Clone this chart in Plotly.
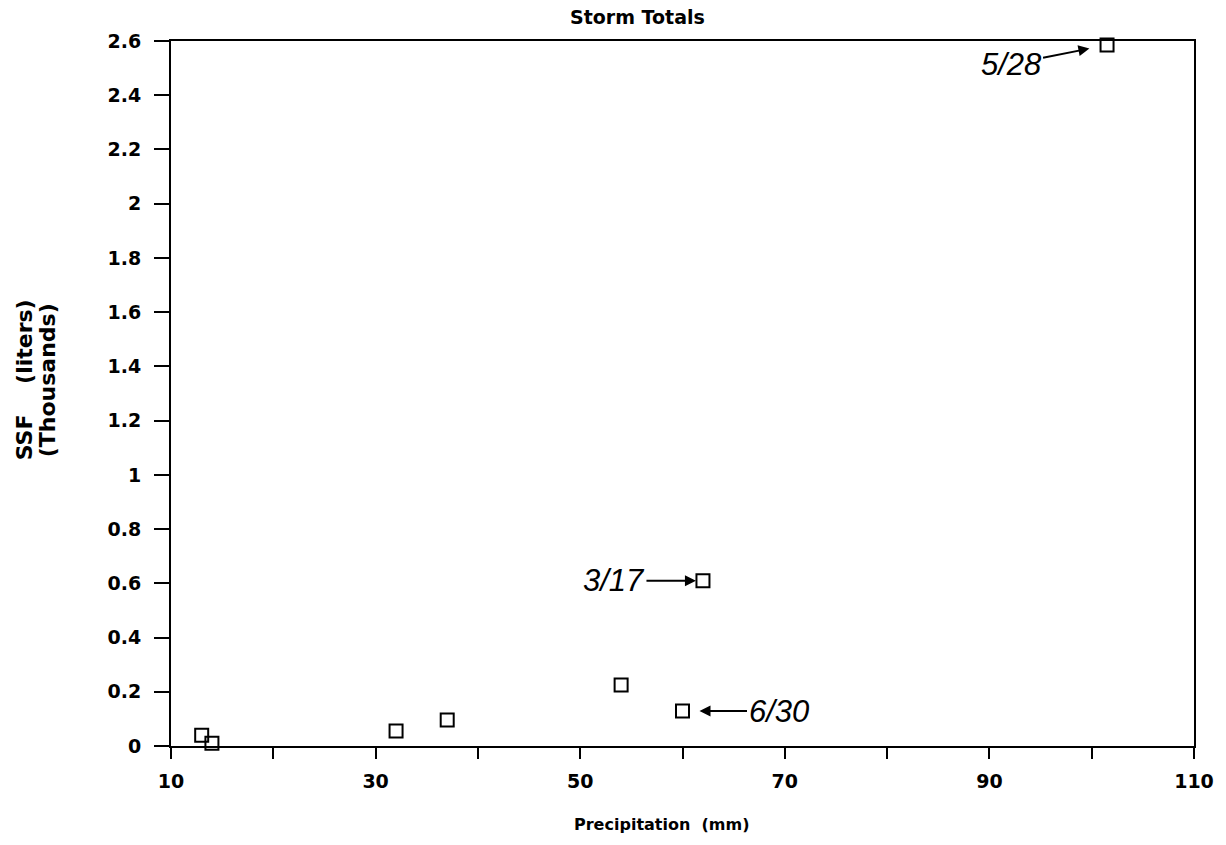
import plotly.graph_objects as go

# Data
precip_mm = [13, 14, 32, 37, 54, 60, 62, 101.5]
ssf_thousand_l = [0.04, 0.01, 0.055, 0.096, 0.225, 0.129, 0.609, 2.585]

x_tick_vals = [10, 20, 30, 40, 50, 60, 70, 80, 90, 100, 110]
x_tick_text = ["10", "", "30", "", "50", "", "70", "", "90", "", "110"]
y_tick_vals = [0, 0.2, 0.4, 0.6, 0.8, 1.0, 1.2, 1.4, 1.6, 1.8, 2.0, 2.2, 2.4, 2.6]
y_tick_text = ["0", "0.2", "0.4", "0.6", "0.8", "1", "1.2", "1.4", "1.6", "1.8", "2", "2.2", "2.4", "2.6"]

# labelled storms: (index into data, label, ax, ay, standoff)
labels = [(6, "3/17", -89, 0, 7), (5, "6/30", 96, 0, 17), (7, "5/28", -96, 19, 18)]

y_title_lines = ["SSF    (liters)", "(Thousands)"]
x_title = "Precipitation  (mm)"
chart_title = "Storm Totals"

FONT = "DejaVu Sans"
FS = 19
L, R, T, B = 171, 30, 41, 99
PW, PH = 1226 - L - R, 845 - T - B

fig = go.Figure()
fig.add_trace(go.Scatter(
    x=precip_mm, y=ssf_thousand_l, mode="markers",
    marker=dict(symbol="square-open", size=13, color="black", line=dict(width=2, color="black")),
    showlegend=False, cliponaxis=False,
))

annotations = []
for idx, txt, ax, ay, so in labels:
    annotations.append(dict(
        x=precip_mm[idx], y=ssf_thousand_l[idx], xref="x", yref="y",
        text=txt, showarrow=True, ax=ax, ay=ay, axref="pixel", ayref="pixel",
        arrowhead=2, arrowsize=1.1, arrowwidth=2, arrowcolor="black", standoff=so,
        font=dict(family="Liberation Sans", size=31, color="black", style="italic"),
    ))

# two-line y-axis title, each line placed separately for tight spacing
for i, line in enumerate(y_title_lines):
    px_center = 24 + 23 * i
    annotations.append(dict(
        x=(px_center - L) / PW, y=(T + PH - 380) / PH, xref="paper", yref="paper",
        textangle=-90, text=line, showarrow=False,
        font=dict(family=FONT, size=22, color="black", weight="bold"),
        xanchor="center", yanchor="middle",
    ))

# x-axis title
annotations.append(dict(
    x=(662 - L) / PW, y=(T + PH - 824) / PH, xref="paper", yref="paper",
    text=x_title, showarrow=False, xanchor="center", yanchor="middle",
    font=dict(family=FONT, size=16, color="black", weight="bold"),
))

# chart title
annotations.append(dict(
    x=(638.5 - L) / PW, y=(T + PH - 17.5) / PH, xref="paper", yref="paper",
    text=chart_title, showarrow=False, xanchor="center", yanchor="middle",
    font=dict(family=FONT, size=FS, color="black", weight="bold"),
))

fig.update_layout(
    width=1226, height=845,
    margin=dict(l=L, r=R, t=T, b=B),
    paper_bgcolor="white", plot_bgcolor="white",
    annotations=annotations,
    font=dict(family=FONT, color="black"),
)

fig.update_xaxes(
    range=[10, 110], tickvals=x_tick_vals, ticktext=x_tick_text,
    ticks="outside", ticklen=11, tickwidth=2, tickcolor="black",
    showline=True, linewidth=2, linecolor="black", mirror=True,
    showgrid=False, zeroline=False, ticklabelstandoff=6,
    tickfont=dict(family=FONT, size=FS, color="black", weight="bold"),
)
fig.update_yaxes(
    range=[0, 2.6], tickvals=y_tick_vals, ticktext=y_tick_text,
    ticks="outside", ticklen=15, tickwidth=2, tickcolor="black",
    showline=True, linewidth=2, linecolor="black", mirror=True,
    showgrid=False, zeroline=False, ticklabelstandoff=9,
    tickfont=dict(family=FONT, size=FS, color="black", weight="bold"),
)

fig.write_html("out.html")
